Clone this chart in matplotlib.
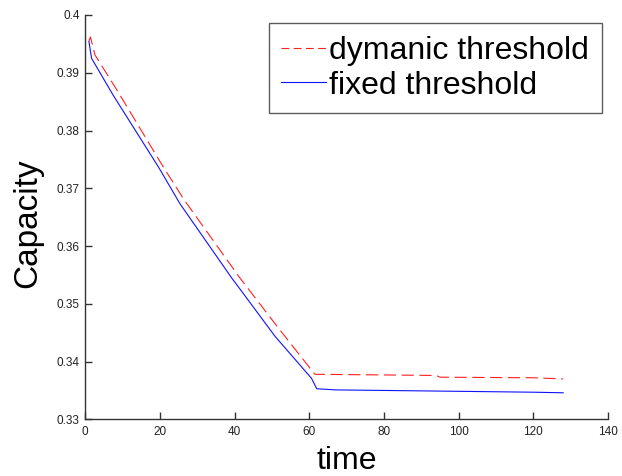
import matplotlib
matplotlib.use("Agg")
import matplotlib.pyplot as plt
from matplotlib.ticker import FormatStrFormatter

# dymanic threshold (red dashed)
t_dyn = [1, 1.4, 2.6, 8.5, 20.9, 26.5, 41.4, 51.5, 61.5, 62, 94, 95, 120, 128]
cap_dyn = [0.3955, 0.3962, 0.3931, 0.3870, 0.3737, 0.3680, 0.3545, 0.3460, 0.3378,
           0.3378, 0.3376, 0.3373, 0.3372, 0.3370]

# fixed threshold (blue solid)
t_fix = [1, 1.7, 7.5, 19.6, 25.4, 39.2, 41.4, 50.8, 60.6, 62, 67, 94, 120, 128]
cap_fix = [0.3954, 0.3925, 0.3861, 0.3737, 0.3673, 0.3545, 0.3526, 0.3444, 0.3371,
           0.3353, 0.3351, 0.3349, 0.3347, 0.3346]

plt.rcParams['font.family'] = ['Liberation Sans', 'DejaVu Sans']

fig = plt.figure(figsize=(6.22, 4.76), dpi=100)
ax = fig.add_axes([0.137, 0.119, 0.8405, 0.8495])

#Plot
ax.plot(t_dyn, cap_dyn, color='#ff2020', linestyle=(0, (11, 5)), linewidth=0.8,
        label='dymanic threshold')
ax.plot(t_fix, cap_fix, color='#1010ff', linewidth=0.8, label='fixed threshold')

ax.set_xlim(0, 140)
ax.set_ylim(0.33, 0.4)
ax.set_xticks(range(0, 141, 20))
ax.set_yticks([0.33 + 0.01 * i for i in range(8)])
ax.yaxis.set_major_formatter(FormatStrFormatter('%g'))

#Matlab look: box off, ticks inward
for s in ['top', 'right']:
    ax.spines[s].set_visible(False)
for s in ['left', 'bottom']:
    ax.spines[s].set_color('#333333')
    ax.spines[s].set_linewidth(1.0)
ax.tick_params(direction='in', length=5, width=1, colors='#333333',
               labelsize=8.5, labelcolor='#222222')
ax.tick_params(axis='x', pad=5)
ax.tick_params(axis='y', pad=4)

ax.set_xlabel('time', fontsize=23)
ax.xaxis.set_label_coords(0.5, -0.122)
ax.xaxis.label.set_va('baseline')
ax.set_ylabel('Capacity', fontsize=24)
ax.yaxis.set_label_coords(-0.080, 0.485)

leg = ax.legend(loc='upper right', bbox_to_anchor=(0.9885, 0.98), fontsize=23,
                handlelength=1.4, handletextpad=0.1, borderpad=0.4,
                labelspacing=0.15, borderaxespad=0, fancybox=False, frameon=True)
leg.get_frame().set_edgecolor('#333333')
leg.get_frame().set_linewidth(1.0)
# shorter dashes in the legend handle
leg.get_lines()[0].set_dashes((7, 4))

fig.savefig('out.png', dpi=100)
